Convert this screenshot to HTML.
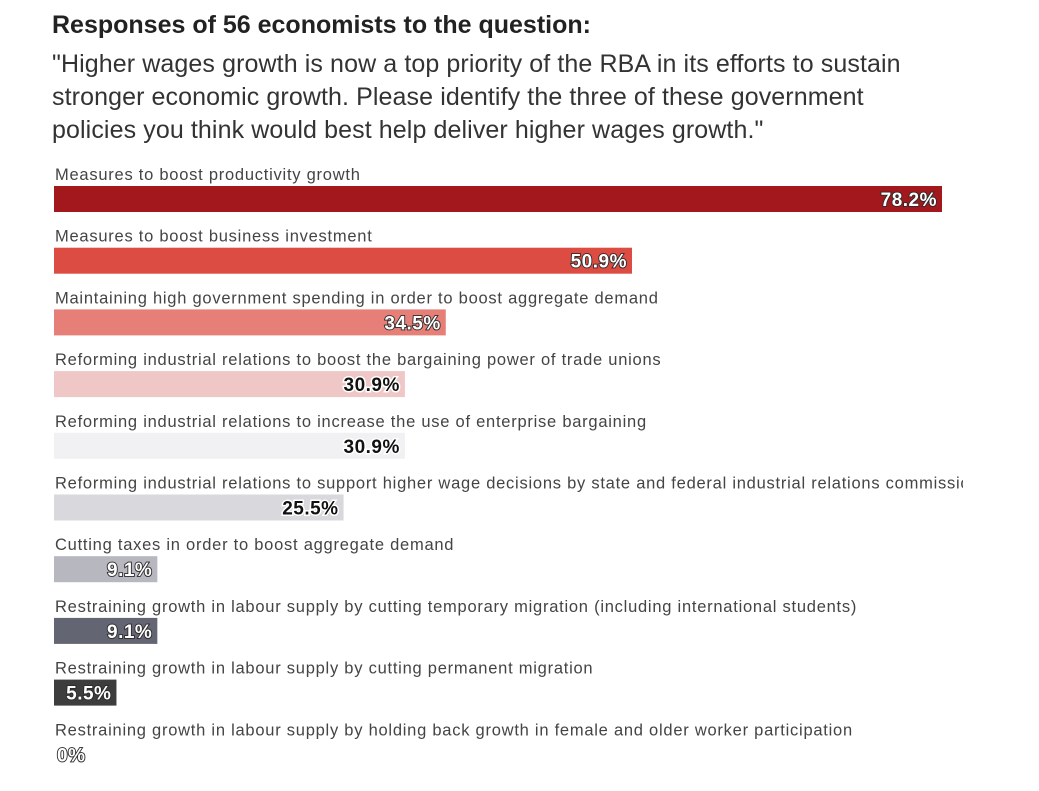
<!DOCTYPE html>
<html><head><meta charset="utf-8"><style>
body{margin:0;background:#fff;font-family:"Liberation Sans",sans-serif;}
#wrap{position:relative;width:1039px;height:791px;overflow:hidden;}
.t1{position:absolute;left:52px;top:11px;font-size:25px;font-weight:bold;color:#222;}
.t2{position:absolute;left:52px;top:48px;font-size:25px;color:#333;line-height:33px;width:900px;letter-spacing:0.1px;}
</style></head><body>
<div id="wrap">
<div class="t1">Responses of 56 economists to the question:</div>
<div class="t2">"Higher wages growth is now a top priority of the RBA in its efforts to sustain stronger economic growth. Please identify the three of these government policies you think would best help deliver higher wages growth."</div>
<svg id="svg" width="1039" height="791" style="position:absolute;left:0;top:0">
<defs><clipPath id="clip"><rect x="0" y="0" width="963" height="791"/></clipPath></defs>
</svg>
</div>
<script>
const categories=["Measures to boost productivity growth","Measures to boost business investment","Maintaining high government spending in order to boost aggregate demand","Reforming industrial relations to boost the bargaining power of trade unions","Reforming industrial relations to increase the use of enterprise bargaining","Reforming industrial relations to support higher wage decisions by state and federal industrial relations commissions","Cutting taxes in order to boost aggregate demand","Restraining growth in labour supply by cutting temporary migration (including international students)","Restraining growth in labour supply by cutting permanent migration","Restraining growth in labour supply by holding back growth in female and older worker participation"];
const values=[78.2,50.9,34.5,30.9,30.9,25.5,9.1,9.1,5.5,0];
const labels=["78.2%","50.9%","34.5%","30.9%","30.9%","25.5%","9.1%","9.1%","5.5%","0%"];
const colors=["#a3181c","#dc4c43","#e57f77","#efc7c6","#f1f1f3","#d8d8dd","#b6b7bf","#646573","#3d3d3d","#222"];
const darkText=[false,false,false,true,true,true,false,false,false,false];
const NS="http://www.w3.org/2000/svg";
const svg=document.getElementById('svg');
const x0=54,scale=888/78.2,top0=186,pitch=61.7,bh=26;
const xs=v=>v*scale;
const ys=i=>top0+i*pitch;
function mk(t,a){const e=document.createElementNS(NS,t);for(const k in a)e.setAttribute(k,a[k]);svg.appendChild(e);return e;}
categories.forEach((c,i)=>{
  const y=ys(i);
  const lab=mk('text',{x:x0+1,y:y-6,'font-size':'16.5','letter-spacing':'0.75','fill':'#444','font-family':'Liberation Sans, sans-serif','clip-path':'url(#clip)'});
  lab.textContent=c;
  
  
  const w=xs(values[i]);
  const r=mk('rect',{x:x0,y:y,width:w,height:bh,fill:colors[i]});
  
  
  const dark=darkText[i];
  const tx=values[i]>0?x0+w-5:x0+3;
  const t=mk('text',{x:tx,y:y+20,'text-anchor':values[i]>0?'end':'start','font-size':'19','font-weight':'bold','letter-spacing':'0.5','font-family':'Liberation Sans, sans-serif',fill:dark?'#111':'#fff',stroke:dark?'#fff':'#2a2a2a','stroke-width':dark?'3':'1.8','paint-order':'stroke'});
  t.textContent=labels[i];
  
  
});
</script>
</body></html>
